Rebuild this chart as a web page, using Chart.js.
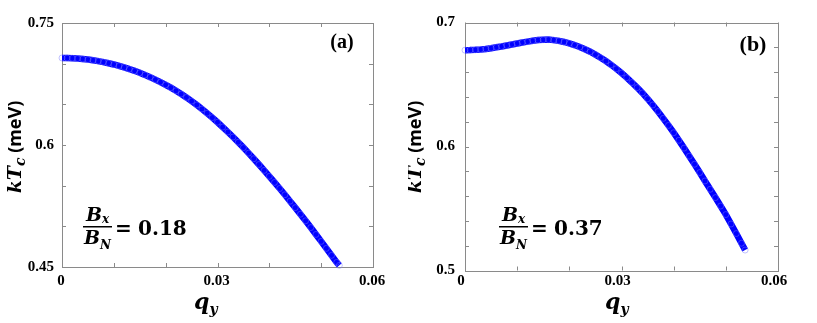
<!DOCTYPE html>
<html>
<head>
<meta charset="utf-8">
<script src="https://cdn.jsdelivr.net/npm/chart.js@4.4.0/dist/chart.umd.min.js"></script>
<style>
  html, body { margin: 0; padding: 0; background: #fff; }
  #wrap { position: relative; width: 817px; height: 323px; overflow: hidden; }
  canvas { position: absolute; top: 0; }
  #cA { left: 0; }
  #cB { left: 408px; }
</style>
</head>
<body>
<div id="wrap">
  <canvas id="cA" width="408" height="323"></canvas>
  <canvas id="cB" width="409" height="323"></canvas>
</div>
<script>
// panel (a): Bx/BN = 0.18
const qA = [0, 0.001, 0.002, 0.003, 0.004, 0.005, 0.006, 0.007, 0.008, 0.009,
  0.010, 0.011, 0.012, 0.013, 0.014, 0.015, 0.016, 0.017, 0.018, 0.019,
  0.020, 0.021, 0.022, 0.023, 0.024, 0.025, 0.026, 0.027, 0.028, 0.029,
  0.030, 0.031, 0.032, 0.033, 0.034, 0.035, 0.036, 0.037, 0.038, 0.039,
  0.040, 0.041, 0.042, 0.043, 0.044, 0.045, 0.046, 0.047, 0.048, 0.049,
  0.050, 0.051, 0.052, 0.053, 0.0535];
const kTcA = [0.7070, 0.7069, 0.7067, 0.7063, 0.7057, 0.7050, 0.7041, 0.7031, 0.7019, 0.7005,
  0.6990, 0.6973, 0.6954, 0.6934, 0.6912, 0.6888, 0.6862, 0.6834, 0.6804, 0.6773,
  0.6740, 0.6705, 0.6667, 0.6627, 0.6585, 0.6540, 0.6493, 0.6443, 0.6391, 0.6337,
  0.6280, 0.6221, 0.6160, 0.6098, 0.6034, 0.5968, 0.5900, 0.5831, 0.5760, 0.5688,
  0.5615, 0.5540, 0.5465, 0.5388, 0.5309, 0.5230, 0.5149, 0.5068, 0.4985, 0.4900,
  0.4815, 0.4729, 0.4643, 0.4557, 0.4520];

// panel (b): Bx/BN = 0.37
const qB = [0, 0.001, 0.002, 0.003, 0.004, 0.005, 0.006, 0.007, 0.008, 0.009,
  0.010, 0.011, 0.012, 0.013, 0.014, 0.015, 0.016, 0.017, 0.018, 0.019,
  0.020, 0.021, 0.022, 0.023, 0.024, 0.025, 0.026, 0.027, 0.028, 0.029,
  0.030, 0.031, 0.032, 0.033, 0.034, 0.035, 0.036, 0.037, 0.038, 0.039,
  0.040, 0.041, 0.042, 0.043, 0.044, 0.045, 0.046, 0.047, 0.048, 0.049,
  0.050, 0.051, 0.052, 0.053, 0.0537];
const kTcB = [0.6777, 0.6778, 0.6780, 0.6783, 0.6787, 0.6793, 0.6800, 0.6807, 0.6815, 0.6823,
  0.6831, 0.6839, 0.6846, 0.6853, 0.6858, 0.6861, 0.6862, 0.6858, 0.6852, 0.6843,
  0.6832, 0.6818, 0.6802, 0.6784, 0.6764, 0.6741, 0.6716, 0.6689, 0.6659, 0.6627,
  0.6592, 0.6555, 0.6516, 0.6475, 0.6432, 0.6385, 0.6335, 0.6282, 0.6227, 0.6170,
  0.6111, 0.6050, 0.5987, 0.5922, 0.5857, 0.5790, 0.5722, 0.5655, 0.5588, 0.5520,
  0.5451, 0.5375, 0.5298, 0.5220, 0.5165];

const xTickLabels = ['0', '0.03', '0.06'];
const yTickLabelsA = ['0.45', '0.6', '0.75'];
const yTickLabelsB = ['0.5', '0.6', '0.7'];
const ratioLabels = ['0.18', '0.37'];
const panelLabels = ['(a)', '(b)'];

function fmt(v) { return String(parseFloat(v.toFixed(3))); }

// box round the plot with short ticks pointing inwards
const framePlugin = {
  id: 'frame',
  beforeDatasetsDraw(chart) {
    const { ctx, chartArea: a, scales } = chart;
    ctx.save();
    ctx.strokeStyle = '#8a8a8a';
    ctx.lineWidth = 1;
    ctx.strokeRect(Math.round(a.left) + 0.5, Math.round(a.top) + 0.5,
      Math.round(a.width), Math.round(a.height));
    ctx.beginPath();
    scales.x.ticks.forEach(t => {
      const px = Math.round(scales.x.getPixelForValue(t.value)) + 0.5;
      ctx.moveTo(px, a.bottom); ctx.lineTo(px, a.bottom - 4);
      ctx.moveTo(px, a.top); ctx.lineTo(px, a.top + 4);
    });
    scales.y.ticks.forEach(t => {
      const py = Math.round(scales.y.getPixelForValue(t.value)) + 0.5;
      ctx.moveTo(a.left, py); ctx.lineTo(a.left + 4, py);
      ctx.moveTo(a.right, py); ctx.lineTo(a.right - 4, py);
    });
    ctx.stroke();
    ctx.restore();
  }
};

// axis titles, Bx/BN note and panel letter
const decorPlugin = {
  id: 'decor',
  afterDraw(chart, args, o) {
    const ctx = chart.ctx;
    ctx.save();
    ctx.fillStyle = '#000';
    ctx.textBaseline = 'alphabetic';
    ctx.textAlign = 'left';

    // y title: kTc (meV)
    const fMain = 'italic bold 19px "DejaVu Serif"';
    const fSub = 'italic bold 14px "DejaVu Serif"';
    const fUnit = 'bold 18px "Noto Sans"';
    ctx.save();
    ctx.translate(o.yTitleX, 147);
    ctx.rotate(-Math.PI / 2);
    ctx.font = fMain; const w1 = ctx.measureText('kT').width;
    ctx.font = fSub; const w2 = ctx.measureText('c').width;
    ctx.font = fUnit; const w3 = ctx.measureText(' (meV)').width;
    let x = -(w1 + w2 + w3) / 2;
    ctx.font = fMain; ctx.fillText('kT', x, 0); x += w1;
    ctx.font = fSub; ctx.fillText('c', x, 4); x += w2;
    ctx.font = fUnit; ctx.fillText(' (meV)', x, 0);
    ctx.restore();

    // x title: q_y
    ctx.font = 'italic bold 22px "DejaVu Serif"';
    const wq = ctx.measureText('q').width;
    ctx.fillText('q', o.qX, 309);
    ctx.font = 'italic bold 14px "DejaVu Serif"';
    ctx.fillText('y', o.qX + wq, 314);

    // fraction Bx / BN = value
    const fx = o.fracX;
    const fB = 'italic bold 19px "DejaVu Serif"';
    const fS = 'italic bold 12px "DejaVu Serif"';
    ctx.font = fB; const wB = ctx.measureText('B').width;
    ctx.font = fS; const wx = ctx.measureText('x').width; const wN = ctx.measureText('N').width;
    const lineW = 29;
    let nx = fx + (lineW - wB - wx) / 2;
    ctx.font = fB; ctx.fillText('B', nx, 221);
    ctx.font = fS; ctx.fillText('x', nx + wB, 223);
    nx = fx + (lineW - wB - wN) / 2;
    ctx.font = fB; ctx.fillText('B', nx, 244);
    ctx.font = fS; ctx.fillText('N', nx + wB, 249);
    ctx.fillRect(fx, 226, lineW, 1.5);
    ctx.font = 'bold 20px "DejaVu Serif"';
    ctx.fillText('=', fx + 32, 235);
    ctx.fillText(o.ratio, fx + 55, 235);

    // panel letter
    ctx.textAlign = 'center';
    ctx.font = 'bold ' + o.labelSize + 'px "Liberation Serif"';
    ctx.fillText(o.label, o.labelX, o.labelY);
    ctx.restore();
  }
};

function makeChart(id, q, kTc, yMin, yMax, yStep, yLabels, geom, decor) {
  const points = q.map((v, i) => ({ x: v, y: kTc[i] }));
  return new Chart(document.getElementById(id), {
    type: 'scatter',
    data: {
      datasets: [{
        data: points,
        showLine: true,
        borderColor: '#0000ff',
        borderWidth: 6.5,
        pointRadius: 3,
        pointBorderWidth: 1,
        pointBackgroundColor: 'rgba(0,0,255,0)',
        pointBorderColor: 'rgba(120,120,255,0.45)',
        clip: false
      }]
    },
    options: {
      responsive: false,
      animation: false,
      layout: { padding: geom.padding },
      plugins: {
        legend: { display: false },
        tooltip: { enabled: false },
        decor: decor
      },
      scales: {
        x: {
          type: 'linear',
          min: 0,
          max: 0.06,
          afterFit(scale) { scale.height = geom.xHeight; },
          grid: { display: false, drawTicks: false },
          border: { display: false },
          ticks: {
            stepSize: 0.01,
            autoSkip: false,
            maxRotation: 0,
            padding: geom.xPad,
            labelOffset: geom.xOffset,
            color: '#000',
            font: { family: 'Liberation Serif', weight: 'bold', size: 15 },
            callback: v => xTickLabels.includes(fmt(v)) ? fmt(v) : ''
          }
        },
        y: {
          type: 'linear',
          min: yMin,
          max: yMax,
          afterFit(scale) { scale.width = geom.yWidth; },
          grid: { display: false, drawTicks: false },
          border: { display: false },
          ticks: {
            stepSize: yStep,
            autoSkip: false,
            padding: geom.yPad,
            color: '#000',
            font: { family: 'Liberation Serif', weight: 'bold', size: 15 },
            callback: v => yLabels.includes(fmt(v)) ? fmt(v) : ''
          }
        }
      }
    },
    plugins: [framePlugin, decorPlugin]
  });
}

makeChart('cA', qA, kTcA, 0.45, 0.75, 0.05, yTickLabelsA,
  { padding: { top: 23, right: 35, bottom: 0, left: 0 }, xHeight: 56, yWidth: 62, xPad: 5, yPad: 8, xOffset: -1 },
  { yTitleX: 21, qX: 194, fracX: 83, ratio: ratioLabels[0], label: panelLabels[0], labelSize: 20, labelX: 342, labelY: 48 });

makeChart('cB', qB, kTcB, 0.5, 0.7, 0.02, yTickLabelsB,
  { padding: { top: 22.5, right: 39, bottom: 0, left: 0 }, xHeight: 52.5, yWidth: 57, xPad: 2, yPad: 10, xOffset: -4 },
  { yTitleX: 13, qX: 197, fracX: 91, ratio: ratioLabels[1], label: panelLabels[1], labelSize: 22, labelX: 345, labelY: 51 });
</script>
</body>
</html>
